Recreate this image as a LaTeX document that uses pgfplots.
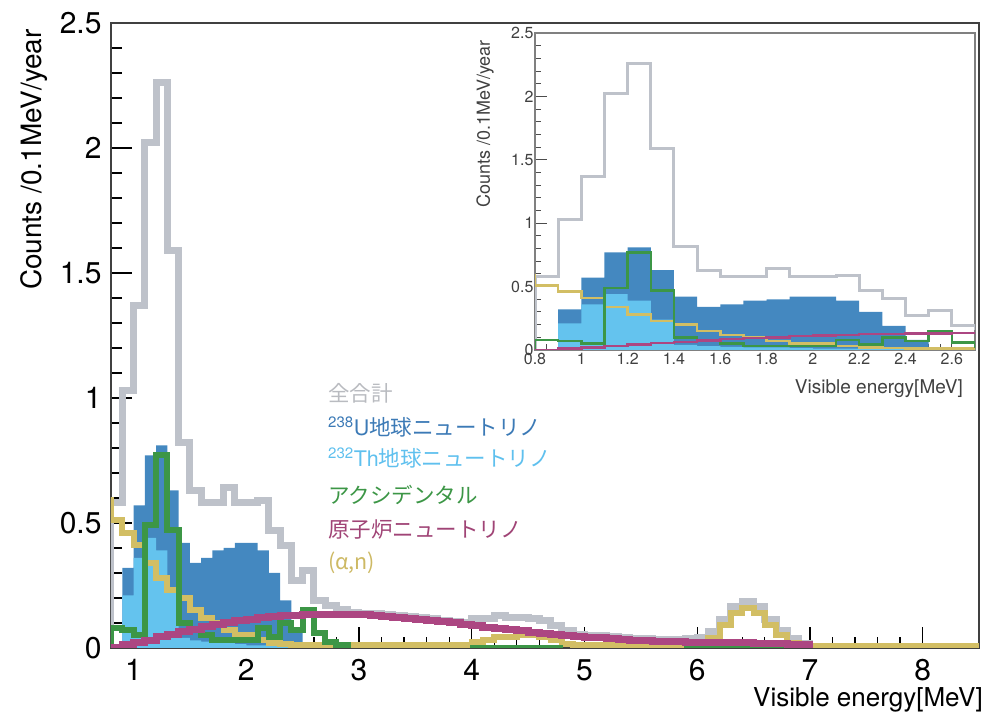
\documentclass[border=0pt]{standalone}
\usepackage{fontspec}
\setmainfont{TeX Gyre Heros}
\newfontfamily\jp{Noto Sans CJK JP}
\usepackage{pgfplots}
\pgfplotsset{compat=1.18}
\usepackage{pgfplotstable}

\definecolor{cT}{RGB}{190,194,202}
\definecolor{cU}{RGB}{68,136,192}
\definecolor{cTh}{RGB}{100,195,238}
\definecolor{cG}{RGB}{60,150,70}
\definecolor{cR}{RGB}{172,70,130}
\definecolor{cY}{RGB}{210,190,100}
\definecolor{tT}{RGB}{185,187,192}
\definecolor{tU}{RGB}{60,122,182}
\definecolor{tTh}{RGB}{95,192,238}
\definecolor{tG}{RGB}{60,150,70}
\definecolor{tR}{RGB}{160,68,118}
\definecolor{tY}{RGB}{205,185,100}

% total
\pgfplotstableread{
x y
0.8 0
0.8 0.58
0.9 1.03
1.0 1.37
1.1 2.02
1.2 2.26
1.3 1.59
1.4 0.82
1.5 0.63
1.6 0.58
1.7 0.58
1.8 0.64
1.9 0.58
2.0 0.58
2.1 0.59
2.2 0.47
2.3 0.41
2.4 0.27
2.5 0.31
2.6 0.19
2.7 0.17
2.8 0.152
2.9 0.142
3.0 0.138
3.1 0.136
3.2 0.133
3.3 0.129
3.4 0.125
3.5 0.121
3.6 0.116
3.7 0.111
3.8 0.106
3.9 0.100
4.0 0.118
4.1 0.118
4.2 0.128
4.3 0.123
4.4 0.123
4.5 0.118
4.6 0.108
4.7 0.090
4.8 0.068
4.9 0.054
5.0 0.051
5.1 0.048
5.2 0.045
5.3 0.042
5.4 0.039
5.5 0.037
5.6 0.035
5.7 0.033
5.8 0.032
5.9 0.036
6.0 0.040
6.1 0.065
6.2 0.115
6.3 0.165
6.4 0.185
6.5 0.165
6.6 0.112
6.7 0.070
6.8 0.038
6.9 0.018
7.0 0.006
8.5 0.006
8.5 0
}\tabT

% 238U (drawn as total of geo-neutrinos)
\pgfplotstableread{
x y
0.9 0
0.9 0.32
1.0 0.57
1.1 0.77
1.2 0.81
1.3 0.63
1.4 0.42
1.5 0.34
1.6 0.36
1.7 0.39
1.8 0.40
1.9 0.42
2.0 0.42
2.1 0.39
2.2 0.30
2.3 0.19
2.4 0.08
2.5 0.02
2.6 0.01
2.7 0.01
2.7 0
}\tabU

% 232Th
\pgfplotstableread{
x y
0.9 0
0.9 0.21
1.0 0.36
1.1 0.44
1.2 0.39
1.3 0.24
1.4 0.04
1.5 0.03
1.6 0.025
1.7 0.02
1.8 0.02
1.9 0.015
2.0 0.01
2.3 0.006
3.0 0.006
3.0 0
}\tabTh

% accidental
\pgfplotstableread{
x y
0.8 0
0.8 0.08
0.9 0.07
1.0 0.05
1.1 0.49
1.2 0.77
1.3 0.47
1.4 0.10
1.5 0.07
1.6 0.05
1.7 0.03
1.8 0.03
1.9 0.03
2.0 0.03
2.1 0.08
2.2 0.045
2.3 0.10
2.4 0.07
2.5 0.15
2.6 0.06
2.7 0.025
2.8 0.01
2.9 0.01
2.9 0
}\tabG

\pgfplotstableread{
x y
4.0 0
4.0 0.005
4.8 0.005
4.8 0
}\tabGa

\pgfplotstableread{
x y
5.9 0
5.9 0.004
6.9 0.004
6.9 0
}\tabGb

% reactor
\pgfplotstableread{
x y
0.8 0
0.9 0.013
1.0 0.02
1.1 0.03
1.2 0.045
1.3 0.055
1.4 0.065
1.5 0.075
1.6 0.085
1.7 0.095
1.8 0.10
1.9 0.11
2.0 0.115
2.1 0.12
2.2 0.125
2.3 0.128
2.4 0.13
2.5 0.132
2.6 0.134
2.7 0.135
2.8 0.135
2.9 0.134
3.0 0.132
3.1 0.13
3.2 0.127
3.3 0.123
3.4 0.119
3.5 0.115
3.6 0.11
3.7 0.105
3.8 0.10
3.9 0.094
4.0 0.088
4.1 0.083
4.2 0.078
4.3 0.073
4.4 0.068
4.5 0.063
4.6 0.058
4.7 0.054
4.8 0.05
4.9 0.046
5.0 0.043
5.1 0.04
5.2 0.037
5.3 0.034
5.4 0.031
5.5 0.029
5.6 0.027
5.7 0.025
5.8 0.024
5.9 0.023
6.0 0.022
6.1 0.021
6.2 0.021
6.3 0.02
6.4 0.02
6.5 0.019
6.6 0.018
6.7 0.017
6.8 0.015
6.9 0.012
7.0 0.012
7.0 0
}\tabR

% (alpha,n)
\pgfplotstableread{
x y
0.7 0.59
0.8 0.51
0.9 0.46
1.0 0.41
1.1 0.34
1.2 0.28
1.3 0.23
1.4 0.20
1.5 0.15
1.6 0.12
1.7 0.10
1.8 0.07
1.9 0.05
2.0 0.05
2.1 0.03
2.2 0.02
2.3 0.015
2.4 0.01
4.0 0.025
4.1 0.03
4.2 0.045
4.3 0.045
4.4 0.05
4.5 0.05
4.6 0.045
4.7 0.03
4.8 0.015
4.9 0.01
6.0 0.015
6.1 0.04
6.2 0.09
6.3 0.14
6.4 0.16
6.5 0.14
6.6 0.09
6.7 0.05
6.8 0.02
6.9 0.008
8.5 0.008
8.5 0
}\tabY

\pgfplotsset{
  histo/.style={const plot, mark=none, line join=miter},
}

\begin{document}
\begin{tikzpicture}
\path[use as bounding box] (-111pt,-72pt) rectangle (883pt,648pt);
\begin{axis}[
  name=main, at={(0pt,0pt)}, anchor=south west,
  scale only axis, width=868pt, height=625pt,
  xmin=0.8, xmax=8.5, ymin=0, ymax=2.5,
  xtick={1,2,3,4,5,6,7,8}, minor x tick num=4,
  ytick={0,0.5,1,1.5,2,2.5}, minor y tick num=4,
  tick pos=left, tick align=inside,
  major tick length=21pt, minor tick length=11pt,
  axis line style={line width=1.5pt, black!75},
  every tick/.style={line width=1.3pt, black},
  tick label style={font=\fontsize{30}{30}\selectfont},
  xticklabel style={yshift=-8pt},
  yticklabel style={xshift=-6pt},
  /pgf/number format/assume math mode=true,
]
\addplot[histo, fill=cU, draw=none] table[x=x,y=y]{\tabU} \closedcycle;
\addplot[histo, fill=cTh, draw=none] table[x=x,y=y]{\tabTh} \closedcycle;
\addplot[histo, draw=cT, line width=7pt] table[x=x,y=y]{\tabT};
\addplot[histo, draw=cY, line width=6pt] table[x=x,y=y]{\tabY};
\addplot[histo, draw=cG, line width=6pt] table[x=x,y=y]{\tabG};
\addplot[histo, draw=cG, line width=3pt] table[x=x,y=y]{\tabGa};
\addplot[histo, draw=cG, line width=3pt] table[x=x,y=y]{\tabGb};
\addplot[histo, draw=cR, line width=7pt] table[x=x,y=y]{\tabR};
\end{axis}

\node[rotate=90, anchor=east, inner sep=0pt, font=\fontsize{28}{28}\selectfont]
  at ([xshift=-77pt,yshift=-6pt]main.north west) {Counts /0.1MeV/year};
\node[anchor=base east, inner sep=0pt, font=\fontsize{26}{26}\selectfont]
  at ([xshift=4pt,yshift=-59pt]main.south east) {Visible energy[MeV]};

\begin{axis}[
  name=ins, at={(424pt,298pt)}, anchor=south west,
  scale only axis, width=440pt, height=317pt,
  xmin=0.8, xmax=2.7, ymin=0, ymax=2.5,
  xtick={0.8,1,1.2,1.4,1.6,1.8,2,2.2,2.4,2.6}, minor x tick num=3,
  ytick={0,0.5,1,1.5,2,2.5}, minor y tick num=4,
  tick pos=left, tick align=inside,
  major tick length=12pt, minor tick length=6pt,
  axis line style={line width=1.2pt, black!50},
  every tick/.style={line width=1pt, black!70},
  tick label style={font=\fontsize{16}{16}\selectfont, text=black!75},
  yticklabel style={xshift=2pt},
  /pgf/number format/assume math mode=true,
]
\addplot[histo, fill=cU, draw=none] table[x=x,y=y]{\tabU} \closedcycle;
\addplot[histo, fill=cTh, draw=none] table[x=x,y=y]{\tabTh} \closedcycle;
\addplot[histo, draw=cT, line width=3pt] table[x=x,y=y]{\tabT};
\addplot[histo, draw=cY, line width=2.5pt] table[x=x,y=y]{\tabY};
\addplot[histo, draw=cG, line width=2.5pt] table[x=x,y=y]{\tabG};
\addplot[histo, draw=cR, line width=2.5pt] table[x=x,y=y]{\tabR};
\end{axis}

\node[rotate=90, anchor=east, inner sep=0pt, font=\fontsize{18}{18}\selectfont, text=black!75]
  at ([xshift=-50pt,yshift=-7pt]ins.north west) {Counts /0.1MeV/year};
\node[anchor=base east, inner sep=0pt, font=\fontsize{19}{19}\selectfont, text=black!75]
  at ([xshift=-12pt,yshift=-44pt]ins.south east) {Visible energy[MeV]};

% legend
\begin{scope}[every node/.style={anchor=west, inner sep=0pt, font=\fontsize{21.5}{21.5}\selectfont}]
\node[text=tT] at (217pt,255pt) {\jp 全合計};
\node[text=tU] at (217pt,221pt) {\textsuperscript{238}U{\jp 地球ニュートリノ}};
\node[text=tTh] at (217pt,190pt) {\textsuperscript{232}Th{\jp 地球ニュートリノ}};
\node[text=tG] at (217pt,153pt) {\jp アクシデンタル};
\node[text=tR] at (217pt,118pt) {\jp 原子炉ニュートリノ};
\node[text=tY] at (217pt,85pt) {\jp (α,n)};
\end{scope}
\end{tikzpicture}
\end{document}
